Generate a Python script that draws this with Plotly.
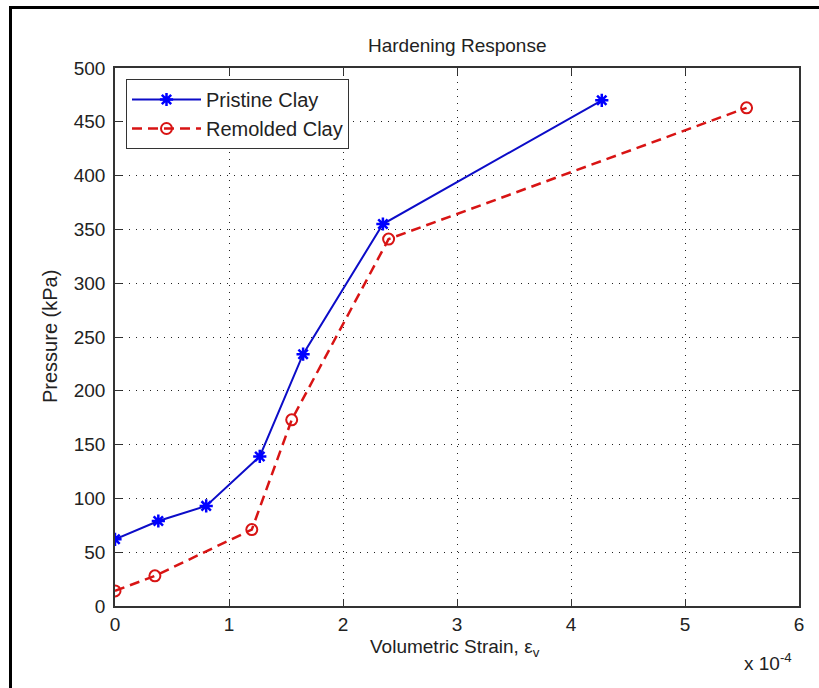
import plotly.graph_objects as go

# Volumetric strain (in units of 1e-4) and pressure (kPa)
pristine_strain = [0.0, 0.38, 0.80, 1.27, 1.65, 2.35, 4.27]
pristine_pressure = [62, 79, 93, 139, 234, 355, 470]

remolded_strain = [0.0, 0.35, 1.20, 1.55, 2.40, 5.54]
remolded_pressure = [14, 28, 71, 173, 341, 463]

x_ticks = [0, 1, 2, 3, 4, 5, 6]
y_ticks = [0, 50, 100, 150, 200, 250, 300, 350, 400, 450, 500]

FONT = "Liberation Sans, Arial, sans-serif"
W, H = 819, 688
L, R, T, B = 115, 20, 68, 82
pw, ph = W - L - R, H - T - B


def px_x(p):
    return (p - L) / pw


def px_y(p):
    return (H - B - p) / ph


fig = go.Figure()

fig.add_trace(go.Scatter(
    x=pristine_strain, y=pristine_pressure, name="Pristine Clay",
    mode="lines+markers",
    line=dict(color="#0c0cc8", width=2),
    marker=dict(symbol="asterisk-open", size=11, color="#0000ff",
                line=dict(color="#0000ff", width=2.5)),
))
fig.add_trace(go.Scatter(
    x=remolded_strain, y=remolded_pressure, name="Remolded Clay",
    mode="lines+markers",
    line=dict(color="#d81414", width=2.5, dash="10px,6px"),
    marker=dict(symbol="circle-open", size=11, color="#d81414",
                line=dict(color="#d81414", width=2)),
))

axis_common = dict(
    showline=True, linecolor="#333", linewidth=1.5, mirror="allticks",
    ticks="inside", ticklen=7, tickcolor="#333", tickwidth=1,
    showgrid=True, gridcolor="#222", gridwidth=1, griddash="1px,6px",
    zeroline=False,
    tickfont=dict(family=FONT, size=19, color="#222"),
)

fig.update_xaxes(range=[0, 6], tickvals=x_ticks, **axis_common)
fig.update_yaxes(range=[0, 500], tickvals=y_ticks, ticklabelstandoff=4,
                 **axis_common)

fig.update_layout(
    width=W, height=H,
    margin=dict(l=L, r=R, t=T, b=B),
    paper_bgcolor="white", plot_bgcolor="white",
    showlegend=True,
    legend=dict(
        x=px_x(126), y=px_y(79), xanchor="left", yanchor="top",
        bgcolor="white", bordercolor="#333", borderwidth=1,
        font=dict(family=FONT, size=20, color="#222"),
        itemwidth=69, tracegroupgap=0,
    ),
    annotations=[
        dict(text="Hardening Response", x=0.5, y=px_y(45), xref="paper",
             yref="paper", showarrow=False, xanchor="center", yanchor="middle",
             font=dict(family=FONT, size=19, color="#222")),
        dict(text="Volumetric Strain, ε<sub>v</sub>", x=px_x(455), y=px_y(648),
             xref="paper", yref="paper", showarrow=False, xanchor="center",
             yanchor="middle", font=dict(family=FONT, size=19, color="#222")),
        dict(text="Pressure (kPa)", x=px_x(50), y=0.5, xref="paper",
             yref="paper", showarrow=False, textangle=-90, xanchor="center",
             yanchor="middle", font=dict(family=FONT, size=20, color="#222")),
        dict(text="x 10<sup>-4</sup>", x=px_x(768), y=px_y(662), xref="paper",
             yref="paper", showarrow=False, xanchor="center", yanchor="middle",
             font=dict(family=FONT, size=19, color="#222")),
    ],
    shapes=[
        dict(type="rect", xref="paper", yref="paper",
             x0=px_x(10.5), y0=px_y(700), x1=px_x(830), y1=px_y(7.5),
             line=dict(color="black", width=3), fillcolor="rgba(0,0,0,0)",
             layer="above"),
    ],
)

fig.write_html("out.html")
